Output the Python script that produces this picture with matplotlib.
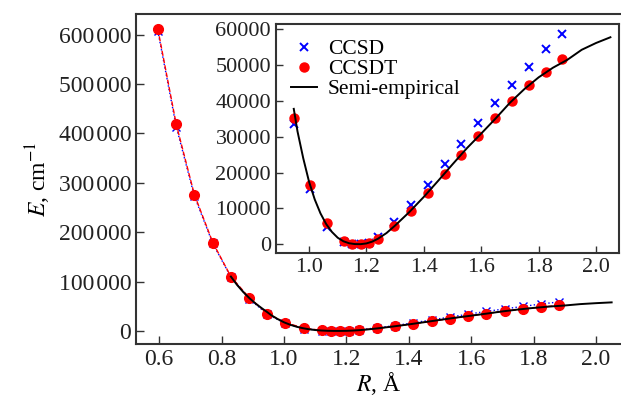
import matplotlib

matplotlib.use("Agg")
import matplotlib.pyplot as plt
from matplotlib.ticker import FuncFormatter, MultipleLocator

plt.rcParams["font.family"] = ["Liberation Serif", "DejaVu Serif"]
plt.rcParams["mathtext.fontset"] = "stix"

# bond length R (angstrom)
r_pts = [0.596, 0.655, 0.713, 0.772, 0.830, 0.889, 0.947, 1.005, 1.063,
         1.122, 1.151, 1.181, 1.210, 1.239, 1.297, 1.356, 1.414, 1.473,
         1.531, 1.590, 1.648, 1.707, 1.765, 1.824, 1.882]
e_ccsd = [607000, 413000, 273000, 177000, 109000, 65000, 33600, 15300, 4800,
          500, 100, 0, 300, 2100, 6200, 10800, 16400, 22300,
          28000, 33800, 39500, 44600, 49600, 54500, 58800]
e_ccsdt = [611000, 418000, 276000, 179000, 110000, 67000, 35200, 16500, 6000,
           900, 100, 0, 400, 1400, 5100, 9200, 14300, 19600,
           25000, 30200, 35200, 40100, 44400, 48200, 51700]

# semi-empirical curve
r_fit = [0.83, 0.85, 0.87, 0.89, 0.91, 0.93, 0.947, 0.96, 0.98, 1.00,
         1.02, 1.04, 1.06, 1.08, 1.10, 1.12, 1.14, 1.16, 1.18, 1.20,
         1.22, 1.24, 1.27, 1.30, 1.35, 1.40, 1.45, 1.50, 1.55, 1.60,
         1.65, 1.70, 1.75, 1.80, 1.85, 1.90, 1.95, 2.00, 2.05]
e_fit = [110000, 93000, 78500, 66000, 55000, 45500, 37800, 31500, 24000, 17500,
         12500, 8600, 5600, 3400, 1800, 800, 250, 20, 0, 200,
         700, 1500, 3100, 5200, 9000, 13200, 17700, 22300, 26800, 30900,
         35100, 39500, 43300, 46600, 49300, 51500, 54300, 56200, 57800]
inset_fit_start = 6  # the inset curve begins at R = 0.947

main_xticks = [0.6, 0.8, 1.0, 1.2, 1.4, 1.6, 1.8, 2.0]
inset_xticks = [1.0, 1.2, 1.4, 1.6, 1.8, 2.0]

SPINE = "#333333"


def style_axes(ax, fs, lw=1.5, tlen=6):
    for s in ax.spines.values():
        s.set_linewidth(lw)
        s.set_color(SPINE)
    ax.tick_params(direction="in", length=tlen, width=1.0, color=SPINE,
                   labelsize=fs, labelcolor="#222222", top=False, right=False)


def thin_sep(v, _pos):
    s = f"{int(round(v)):d}"
    if len(s) > 3:
        s = s[:-3] + "\u200a" + s[-3:]
    return s


fig = plt.figure(figsize=(6.21, 4.07), dpi=100)
ax = fig.add_axes([0.219, 0.155, 0.781, 0.811])

ax.plot(r_pts, e_ccsd, color="blue", ls=":", lw=1.0, marker="x",
        ms=6, mew=1.0, zorder=2)
ax.plot(r_pts, e_ccsdt, color="red", ls="--", lw=1.0, marker="o",
        ms=7, zorder=3)
ax.plot(r_fit, e_fit, color="black", lw=1.4, zorder=4)

ax.set_xlim(0.526, 2.080)
ax.set_ylim(-26300, 641900)
ax.set_xticks(main_xticks)
ax.xaxis.set_major_formatter(FuncFormatter(lambda v, p: f"{v:.1f}"))
ax.yaxis.set_major_locator(MultipleLocator(100000))
ax.yaxis.set_major_formatter(FuncFormatter(thin_sep))
style_axes(ax, 17)
ax.spines["right"].set_visible(False)
ax.set_xlabel("$R$, Å", fontsize=17, labelpad=0)
ax.set_ylabel("$E$, cm$^{-1}$", fontsize=17, labelpad=4)

ins = fig.add_axes([0.4444, 0.378, 0.5524, 0.563])
ins.plot(r_pts, e_ccsd, color="blue", ls="none", marker="x", ms=5.5,
         mew=1.4, label="CCSD", zorder=2)
ins.plot(r_pts, e_ccsdt, color="red", ls="none", marker="o", ms=6.5,
         label="CCSDT", zorder=3)
ins.plot(r_fit[inset_fit_start:], e_fit[inset_fit_start:], color="black",
         lw=1.4, label="Semi-empirical", zorder=4)
ins.set_xlim(0.885, 2.080)
ins.set_ylim(-2515, 61500)
ins.set_xticks(inset_xticks)
ins.xaxis.set_major_formatter(FuncFormatter(lambda v, p: f"{v:.1f}"))
ins.yaxis.set_major_locator(MultipleLocator(10000))
style_axes(ins, 16, lw=1.5, tlen=5)
ins.legend(loc="upper left", frameon=False, fontsize=15.5, handlelength=1.2,
           handletextpad=0.5, labelspacing=0.0, borderaxespad=0.35,
           borderpad=0.35)

fig.savefig("out.png", dpi=100)
